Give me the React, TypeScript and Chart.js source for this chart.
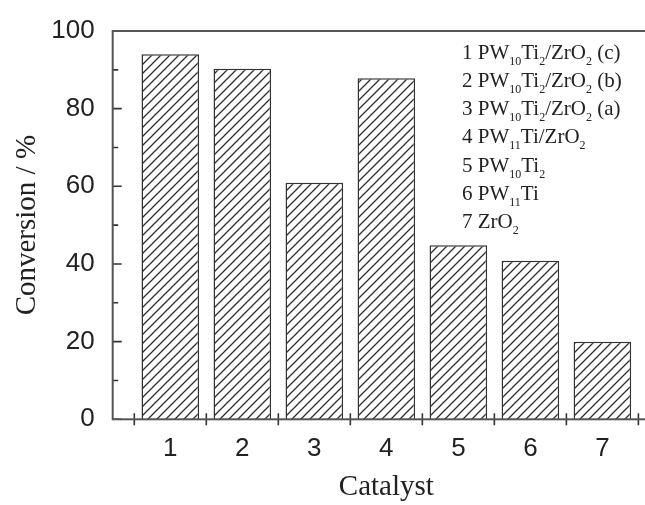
import { useEffect, useRef } from 'react';
import { Chart, registerables } from 'chart.js';

Chart.register(...registerables);

const categories = [1, 2, 3, 4, 5, 6, 7];
const conversion = [94.0, 90.3, 60.9, 87.8, 44.8, 40.8, 20.0];
const yTickValues = [0, 10, 20, 30, 40, 50, 60, 70, 80, 90, 100];
const xTickMarks = [0.5, 1.5, 2.5, 3.5, 4.5, 5.5, 6.5, 7.5];

// legend lines: [text, isSubscript]
const legendLines: [string, boolean][][] = [
  [['1 PW', false], ['10', true], ['Ti', false], ['2', true], ['/ZrO', false], ['2', true], [' (c)', false]],
  [['2 PW', false], ['10', true], ['Ti', false], ['2', true], ['/ZrO', false], ['2', true], [' (b)', false]],
  [['3 PW', false], ['10', true], ['Ti', false], ['2', true], ['/ZrO', false], ['2', true], [' (a)', false]],
  [['4 PW', false], ['11', true], ['Ti/ZrO', false], ['2', true]],
  [['5 PW', false], ['10', true], ['Ti', false], ['2', true]],
  [['6 PW', false], ['11', true], ['Ti', false]],
  [['7 ZrO', false], ['2', true]],
];

function makeHatch(): CanvasPattern | string {
  const s = 9;
  const c = document.createElement('canvas');
  c.width = s;
  c.height = s;
  const g = c.getContext('2d');
  if (!g) return '#fff';
  g.fillStyle = '#ffffff';
  g.fillRect(0, 0, s, s);
  g.strokeStyle = '#2e2e2e';
  g.lineWidth = 1.3;
  g.beginPath();
  g.moveTo(-1, s + 1);
  g.lineTo(s + 1, -1);
  g.moveTo(-1, 1);
  g.lineTo(1, -1);
  g.moveTo(s - 1, s + 1);
  g.lineTo(s + 1, s - 1);
  g.stroke();
  const p = g.createPattern(c, 'repeat');
  return p || '#fff';
}

const framePlugin = {
  id: 'framePlugin',
  afterDatasetsDraw(chart: any) {
    const ctx = chart.ctx as CanvasRenderingContext2D;
    const { left, right, top, bottom } = chart.chartArea;
    const xs = chart.scales.x;
    const ys = chart.scales.y;
    ctx.save();
    // y ticks (inside)
    ctx.strokeStyle = '#333';
    ctx.lineWidth = 1.6;
    ctx.beginPath();
    for (const v of yTickValues) {
      const py = ys.getPixelForValue(v);
      const len = v % 20 === 0 ? 9 : 5.5;
      ctx.moveTo(left, py);
      ctx.lineTo(left + len, py);
    }
    // x ticks (crossing)
    for (const v of xTickMarks) {
      const px = xs.getPixelForValue(v);
      ctx.moveTo(px, bottom - 6);
      ctx.lineTo(px, bottom + 6);
    }
    ctx.stroke();
    // frame
    ctx.strokeStyle = '#555';
    ctx.lineWidth = 2;
    ctx.strokeRect(left, top, right - left, bottom - top);
    // legend text
    ctx.fillStyle = '#222';
    ctx.textBaseline = 'alphabetic';
    ctx.textAlign = 'left';
    const x0 = 462;
    const y0 = 58.5;
    const dy = 28.3;
    legendLines.forEach((segs, i) => {
      let x = x0;
      const y = y0 + i * dy;
      for (const [t, sub] of segs) {
        ctx.font = sub ? '12px "Liberation Serif"' : '21px "Liberation Serif"';
        ctx.fillText(t, x, sub ? y + 6 : y);
        x += ctx.measureText(t).width;
      }
    });
    ctx.restore();
  },
};

export default function App() {
  const ref = useRef<HTMLCanvasElement | null>(null);
  useEffect(() => {
    if (!ref.current) return;
    const hatch = makeHatch();
    const chart = new Chart(ref.current, {
      type: 'bar',
      data: {
        datasets: [
          {
            data: categories.map((c, i) => ({ x: c, y: conversion[i] })),
            backgroundColor: hatch as any,
            borderColor: '#333',
            borderWidth: 1.5,
            categoryPercentage: 1,
            barPercentage: 0.8,
          },
        ],
      },
      options: {
        animation: false,
        responsive: false,
        layout: { padding: { left: 0, top: 31, right: 20, bottom: 0 } },
        plugins: { legend: { display: false }, tooltip: { enabled: false } },
        scales: {
          x: {
            type: 'linear',
            offset: false,
            min: 0.2,
            max: 7.8,
            grid: { display: false, offset: false },
            border: { display: false },
            afterBuildTicks: (scale: any) => {
              scale.ticks = categories.map((v) => ({ value: v }));
            },
            afterFit: (scale: any) => {
              scale.height = 85.7;
            },
            ticks: {
              padding: 6,
              color: '#222',
              font: { family: '"Liberation Sans"', size: 26 },
              callback: (v: any) => String(v),
            },
            title: {
              display: true,
              text: 'Catalyst',
              color: '#222',
              font: { family: '"Liberation Serif"', size: 29 },
              padding: { top: 0, bottom: 0 },
            },
          },
          y: {
            min: 0,
            max: 100,
            grid: { display: false },
            border: { display: false },
            afterFit: (scale: any) => {
              scale.width = 112.7;
            },
            ticks: {
              stepSize: 10,
              padding: 10,
              color: '#222',
              font: { family: '"Liberation Sans"', size: 26 },
              callback: (v: any) => (Number(v) % 20 === 0 ? String(v) : ''),
            },
            title: {
              display: true,
              text: 'Conversion / %',
              color: '#222',
              font: { family: '"Liberation Serif"', size: 29 },
              padding: { top: 10, bottom: 0 },
            },
          },
        },
      },
      plugins: [framePlugin],
    });
    return () => chart.destroy();
  }, []);
  return (
    <div style={{ position: 'fixed', left: 0, top: 0, width: 645, height: 505, overflow: 'hidden', background: '#fff' }}>
      <canvas ref={ref} width={680} height={505} style={{ display: 'block' }} />
    </div>
  );
}
